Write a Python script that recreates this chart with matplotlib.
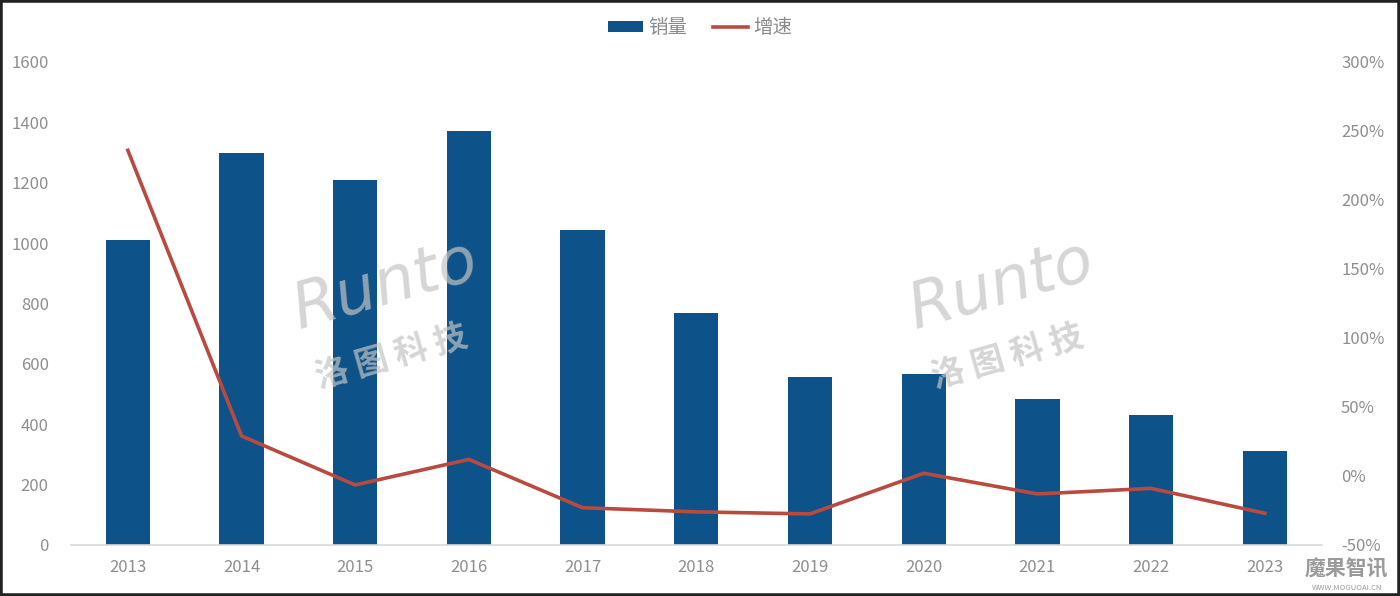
import matplotlib
matplotlib.use("Agg")
import matplotlib.pyplot as plt
from matplotlib.patches import Rectangle
from matplotlib.ticker import FuncFormatter

plt.rcParams['font.family'] = ['Noto Sans CJK SC', 'DejaVu Sans']

years = ['2013', '2014', '2015', '2016', '2017', '2018', '2019', '2020', '2021', '2022', '2023']
sales = [1010, 1300, 1210, 1370, 1045, 770, 555, 565, 485, 430, 310]
growth = [236, 29, -6.5, 12, -23, -26, -27.5, 2, -13, -9, -27]

bar_color = '#0D5389'
line_color = '#B94A40'
tick_color = '#8E8E8E'

fig = plt.figure(figsize=(14, 5.96), dpi=100)
ax = fig.add_axes([0.0507, 0.0856, 0.8933, 0.8104])
x = list(range(len(years)))
ax.bar(x, sales, width=0.39, color=bar_color, zorder=2, label='销量')
ax.set_xlim(-0.5, len(years) - 0.5)
ax.set_ylim(0, 1600)
ax.set_yticks(range(0, 1601, 200))
ax.set_xticks(x)
ax.set_xticklabels(years)
for s in ['top', 'right', 'left']:
    ax.spines[s].set_visible(False)
ax.spines['bottom'].set_color('#D9D9D9')
ax.spines['bottom'].set_linewidth(1.2)
ax.tick_params(axis='both', length=0, colors=tick_color, labelsize=12)
ax.tick_params(axis='y', pad=16)
ax.tick_params(axis='x', pad=10)

ax2 = ax.twinx()
ax2.plot(x, growth, color=line_color, linewidth=2.6, zorder=3, label='增速')
ax2.set_ylim(-50, 300)
ax2.set_yticks(range(-50, 301, 50))
ax2.yaxis.set_major_formatter(FuncFormatter(lambda v, p: f'{int(v)}%'))
for s in ['top', 'right', 'left', 'bottom']:
    ax2.spines[s].set_visible(False)
ax2.tick_params(axis='y', length=0, colors=tick_color, labelsize=12, pad=14)

h1, l1 = ax.get_legend_handles_labels()
h2, l2 = ax2.get_legend_handles_labels()
fig.legend(h1 + h2, l1 + l2, loc='upper center', bbox_to_anchor=(0.5, 1.0), ncol=2,
           frameon=False, fontsize=14, labelcolor='#8A8A8A', handlelength=1.8,
           handleheight=0.45, columnspacing=1.3, handletextpad=0.3)

# watermarks
for wx in [0.275, 0.715]:
    fig.text(wx, 0.52, 'Runto', fontsize=46, color='#C4C4C4', alpha=0.7, rotation=16,
             ha='center', va='center', family=['DejaVu Sans'], fontstyle='italic')
    fig.text(wx + 0.005, 0.40, '洛 图 科 技', fontsize=24, color='#C4C4C4', alpha=0.7,
             rotation=16, ha='center', va='center', fontweight='bold')
fig.text(0.962, 0.045, '魔果智讯', fontsize=15, color='#9A9A9A', ha='center', va='center', fontweight='bold')
fig.text(0.962, 0.014, 'WWW.MOGUOAI.CN', fontsize=5.5, color='#9A9A9A', ha='center', va='center')

fig.patches.append(Rectangle((0, 0), 1, 1, transform=fig.transFigure, fill=False,
                             edgecolor='#222222', linewidth=4, zorder=10))

fig.savefig('out.png', dpi=100)
